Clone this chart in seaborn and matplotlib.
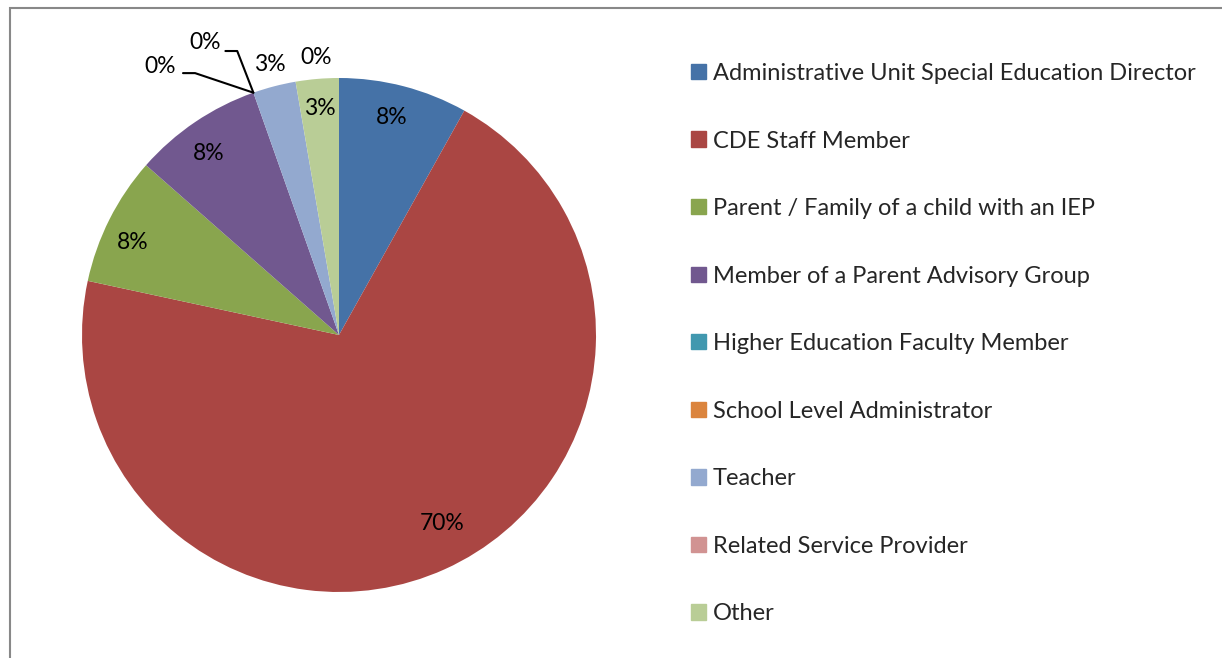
import matplotlib
matplotlib.use("Agg")
import matplotlib.pyplot as plt
import matplotlib.patches as mpatches
import numpy as np
import seaborn as sns

sns.set_theme(style="white")
plt.rcParams['font.family'] = ['Lato', 'DejaVu Sans']

# data
categories = ['Administrative Unit Special Education Director', 'CDE Staff Member',
              'Parent / Family of a child with an IEP', 'Member of a Parent Advisory Group',
              'Higher Education Faculty Member', 'School Level Administrator',
              'Teacher', 'Related Service Provider', 'Other']
counts = [3, 26, 3, 3, 0, 0, 1, 0, 1]
colors = ['#4572A7', '#AA4643', '#89A54E', '#71588F', '#4198AF',
          '#DB843D', '#93A9CF', '#D19392', '#B9CD96']

fig = plt.figure(figsize=(12.22, 6.58), dpi=100)
W, H = 1222, 658
cx, cy, r = 339, 335, 257
ax = fig.add_axes([(cx - r) / W, (H - cy - r) / H, 2 * r / W, 2 * r / H])

wedges, _ = ax.pie(counts, colors=colors, startangle=90, counterclock=False,
                   radius=1, wedgeprops=dict(linewidth=0))
ax.set_xlim(-1, 1)
ax.set_ylim(-1, 1)
ax.set_aspect('auto')
ax.axis('off')

total = sum(counts)
pcts = ['{:.0f}%'.format(100 * c / total) for c in counts]

# label positions (data coords, pie radius = 1)
label_pos = [(0.206, 0.848), (0.401, -0.735), (-0.802, 0.358), (-0.506, 0.708),
             (-0.696, 1.043), (-0.521, 1.140), (-0.268, 1.054), (-0.089, 1.078),
             (-0.074, 0.883)]
for (x, y), p in zip(label_pos, pcts):
    ax.text(x, y, p, ha='center', va='center', fontsize=16.5, color='black', clip_on=False)

# leader lines for the two zero slices on the left
edge_angle = np.deg2rad(90 - 360 * sum(counts[:4]) / total)
ex, ey = np.cos(edge_angle), np.sin(edge_angle)
ax.plot([-0.607, -0.56, ex], [1.019, 1.019, ey], color='black', lw=1.5, clip_on=False)
ax.plot([-0.442, -0.396, ex], [1.105, 1.105, ey], color='black', lw=1.5, clip_on=False)

handles = [mpatches.Patch(color=c) for c in colors]
fig.legend(handles, categories, loc='upper left', bbox_to_anchor=(691 / W, 1 - 63 / H),
           frameon=False, fontsize=17, handlelength=0.63, handleheight=0.63,
           handletextpad=0.3, labelspacing=1.97, borderaxespad=0, borderpad=0)

border = mpatches.Rectangle((10 / W, -0.1), 1.2, 1 - 8 / H + 0.1, transform=fig.transFigure,
                            fill=False, edgecolor='#888888', linewidth=1.5)
fig.add_artist(border)

fig.savefig('out.png', dpi=100)
